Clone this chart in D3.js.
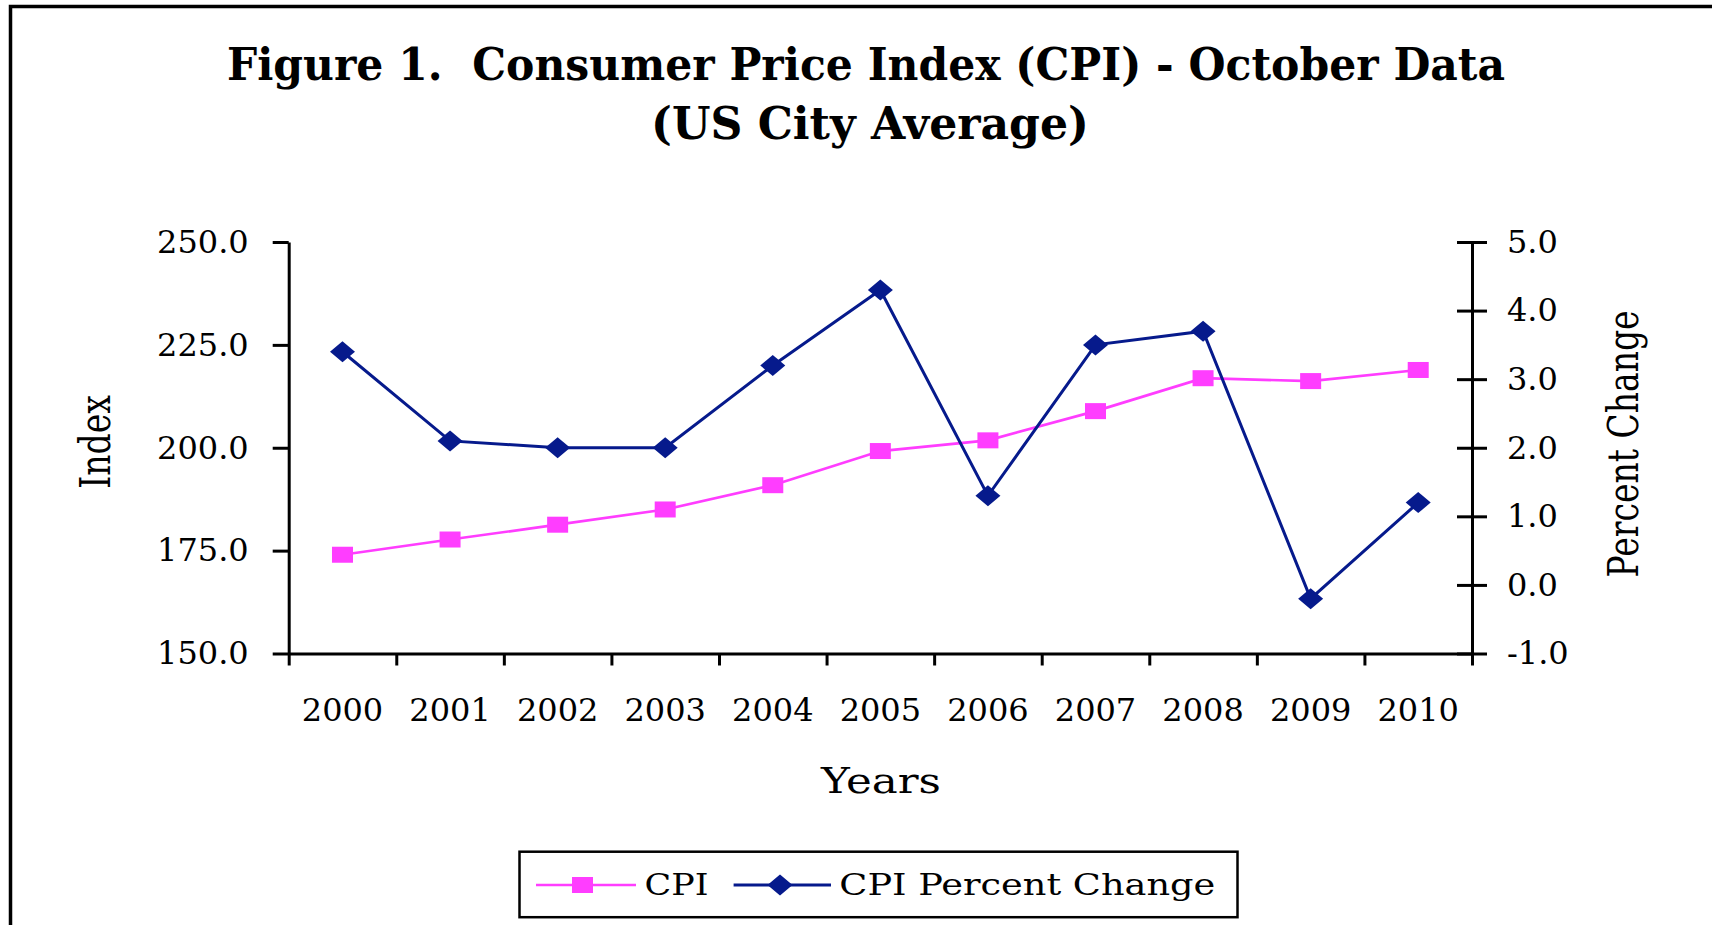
<!DOCTYPE html>
<html>
<head>
<meta charset="utf-8">
<script src="https://cdn.jsdelivr.net/npm/d3@7"></script>
<style>
  html, body { margin: 0; padding: 0; background: #fff; }
  svg { display: block; }
</style>
</head>
<body>
<div id="chart"></div>
<script>
'use strict';

const years = ['2000', '2001', '2002', '2003', '2004', '2005', '2006', '2007', '2008', '2009', '2010'];
const cpiValues = [174.0, 177.7, 181.3, 185.0, 190.9, 199.2, 201.8, 208.9, 216.9, 216.2, 218.9];
const pctValues = [3.4, 2.1, 2.0, 2.0, 3.2, 4.3, 1.3, 3.5, 3.7, -0.2, 1.2];
const indexTicks = [150, 175, 200, 225, 250];
const pctTicks = [-1, 0, 1, 2, 3, 4, 5];

const W = 1712, H = 925;
const plot = {left: 288.7, right: 1472, top: 242, bottom: 653.5};
const pink = '#ff3dff', navy = '#061a8c';
const serif = '"DejaVu Serif", serif';

const svg = d3.select('#chart').append('svg')
    .attr('width', W)
    .attr('height', H);

// outer frame, runs off the right and bottom of the picture
svg.append('rect')
    .attr('x', 10.5).attr('y', 6.5)
    .attr('width', 1800).attr('height', 1000)
    .attr('fill', 'none').attr('stroke', '#000').attr('stroke-width', 3.5);

// title (keep the double space after "1.")
svg.append('text')
    .attr('x', 866).attr('y', 80)
    .attr('text-anchor', 'middle')
    .style('white-space', 'pre')
    .attr('font-family', serif).attr('font-weight', 'bold').attr('font-size', 44)
    .attr('textLength', 1278).attr('lengthAdjust', 'spacingAndGlyphs')
    .text('Figure 1.  Consumer Price Index (CPI) - October Data');
svg.append('text')
    .attr('x', 870).attr('y', 139)
    .attr('text-anchor', 'middle')
    .attr('font-family', serif).attr('font-weight', 'bold').attr('font-size', 44)
    .attr('textLength', 438).attr('lengthAdjust', 'spacingAndGlyphs')
    .text('(US City Average)');

// scales
const xBand = d3.scaleBand().domain(years).range([plot.left, plot.right]);
const xEdge = d3.scaleLinear().domain([0, years.length]).range([plot.left, plot.right]);
const yIndex = d3.scaleLinear().domain([150, 250]).range([plot.bottom, plot.top]);
const yPct = d3.scaleLinear().domain([-1, 5]).range([plot.bottom, plot.top]);
const fmt = d => d.toFixed(1);

function styleAxis(g) {
    g.attr('font-family', serif).attr('font-size', 32);
    g.selectAll('path, line').attr('stroke', '#000').attr('stroke-width', 3);
    g.selectAll('text').attr('fill', '#000');
}

// left axis
svg.append('g')
    .attr('transform', `translate(${plot.left},0)`)
    .call(d3.axisLeft(yIndex).tickValues(indexTicks).tickFormat(fmt)
        .tickSize(16).tickSizeOuter(0).tickPadding(24))
    .call(styleAxis);

// right axis, ticks cross the line
const rightAxis = svg.append('g')
    .attr('transform', `translate(${plot.right},0)`)
    .call(d3.axisRight(yPct).tickValues(pctTicks).tickFormat(fmt)
        .tickSize(15).tickSizeOuter(0).tickPadding(20))
    .call(styleAxis);
rightAxis.selectAll('.tick line').attr('x1', -15);

// bottom axis: ticks on the category edges, labels in the middle
svg.append('g')
    .attr('transform', `translate(0,${plot.bottom})`)
    .call(d3.axisBottom(xEdge).tickValues(d3.range(years.length + 1)).tickFormat('')
        .tickSize(12).tickSizeOuter(0))
    .call(styleAxis);

svg.append('g')
    .selectAll('text')
    .data(years)
    .join('text')
    .attr('x', d => xBand(d) + xBand.bandwidth() / 2)
    .attr('y', 721)
    .attr('text-anchor', 'middle')
    .attr('font-family', serif).attr('font-size', 32)
    .text(d => d);

// axis titles
svg.append('text')
    .attr('x', 881).attr('y', 793)
    .attr('text-anchor', 'middle')
    .attr('font-family', serif).attr('font-size', 36)
    .attr('textLength', 120).attr('lengthAdjust', 'spacingAndGlyphs')
    .text('Years');

svg.append('text')
    .attr('transform', 'translate(110,442) scale(1.3,1) rotate(-90)')
    .attr('text-anchor', 'middle')
    .attr('font-family', serif).attr('font-size', 33)
    .text('Index');

svg.append('text')
    .attr('transform', 'translate(1638,444) scale(1.3,1) rotate(-90)')
    .attr('text-anchor', 'middle')
    .attr('font-family', serif).attr('font-size', 33)
    .text('Percent Change');

// series
const cx = (d, i) => xBand(years[i]) + xBand.bandwidth() / 2;
const diamond = (x, y) => `M${x},${y - 10.5}L${x + 12.5},${y}L${x},${y + 10.5}L${x - 12.5},${y}Z`;

svg.append('path')
    .datum(cpiValues)
    .attr('fill', 'none').attr('stroke', pink).attr('stroke-width', 2.7)
    .attr('d', d3.line().x(cx).y(d => yIndex(d)));

svg.append('path')
    .datum(pctValues)
    .attr('fill', 'none').attr('stroke', navy).attr('stroke-width', 3)
    .attr('d', d3.line().x(cx).y(d => yPct(d)));

svg.append('g')
    .selectAll('rect')
    .data(cpiValues)
    .join('rect')
    .attr('x', (d, i) => cx(d, i) - 10.5)
    .attr('y', d => yIndex(d) - 8)
    .attr('width', 21).attr('height', 16)
    .attr('fill', pink);

svg.append('g')
    .selectAll('path')
    .data(pctValues)
    .join('path')
    .attr('d', (d, i) => diamond(cx(d, i), yPct(d)))
    .attr('fill', navy);

// legend
const legend = svg.append('g');
legend.append('rect')
    .attr('x', 519.5).attr('y', 851.7)
    .attr('width', 718).attr('height', 65.5)
    .attr('fill', '#fff').attr('stroke', '#000').attr('stroke-width', 2.5);

legend.append('line')
    .attr('x1', 536).attr('x2', 636).attr('y1', 885).attr('y2', 885)
    .attr('stroke', pink).attr('stroke-width', 2.7);
legend.append('rect')
    .attr('x', 572).attr('y', 877).attr('width', 21).attr('height', 16)
    .attr('fill', pink);
legend.append('text')
    .attr('x', 644.5).attr('y', 895)
    .attr('font-family', serif).attr('font-size', 30)
    .attr('textLength', 64).attr('lengthAdjust', 'spacingAndGlyphs')
    .text('CPI');

legend.append('line')
    .attr('x1', 733.6).attr('x2', 831).attr('y1', 885).attr('y2', 885)
    .attr('stroke', navy).attr('stroke-width', 3);
legend.append('path')
    .attr('d', diamond(780, 885))
    .attr('fill', navy);
legend.append('text')
    .attr('x', 839.3).attr('y', 895)
    .attr('font-family', serif).attr('font-size', 30)
    .attr('textLength', 376).attr('lengthAdjust', 'spacingAndGlyphs')
    .text('CPI Percent Change');
</script>
</body>
</html>
